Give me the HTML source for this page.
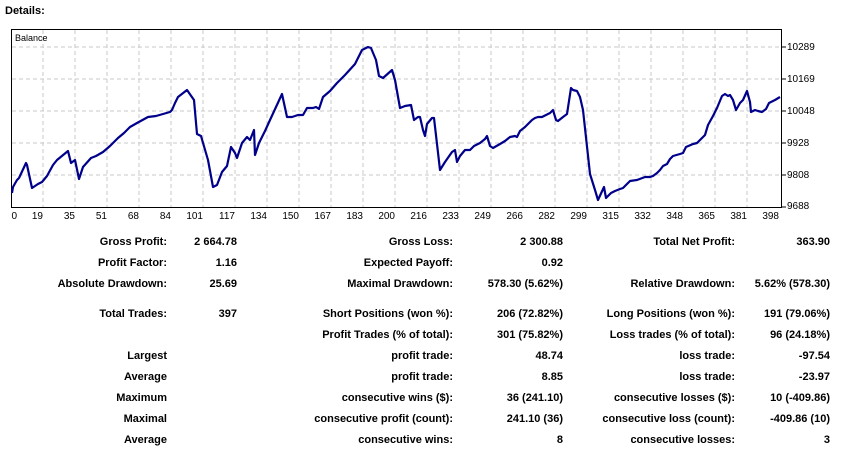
<!DOCTYPE html>
<html><head><meta charset="utf-8"><style>
body{margin:0;width:842px;height:454px;background:#fff;overflow:hidden;position:relative;font-family:"Liberation Sans",sans-serif;}
.t{position:absolute;font-weight:bold;font-size:11px;color:#000;white-space:nowrap;line-height:13px;margin-top:1px;}
.r{text-align:right;}
</style></head><body>
<div class="t" style="left:5px;top:4px;">Details:</div>
<svg width="842" height="225" style="position:absolute;left:0;top:0" font-family="Liberation Sans, sans-serif" font-size="10">
<rect x="11.5" y="29.5" width="770" height="178" fill="#fff" stroke="#000"/>
<g stroke="#c8c8c8" stroke-dasharray="4,3">
<path d="M43 30V207M75 30V207M107 30V207M139 30V207M171 30V207M203 30V207M235 30V207M267 30V207M299 30V207M331 30V207M363 30V207M395 30V207M427 30V207M459 30V207M491 30V207M523 30V207M555 30V207M587 30V207M619 30V207M651 30V207M683 30V207M715 30V207M747 30V207"/>
<path d="M12 47H781M12 79H781M12 111H781M12 143H781M12 175H781"/>
</g>
<text x="15" y="41" font-size="9">Balance</text>
<polyline fill="none" stroke="#00008b" stroke-width="2.2" stroke-linejoin="round" points="12,193 13,187 17,180 19,178 26,163 27,165 32,188 38,184 42,182 47,176 53,165 57,160 68,151 71,163 75,160 79,179 83,167 91,158 96,156 103,152 110,146 118,138 124,133 130,127 137,123 148,117 156,116 170,112 172,110 175,103 178,97 187,90 194,100 197,134 201,136 208,160 213,187 217,185 222,172 227,166 231,147 235,153 237,158 242,143 247,137 250,140 254,130 255,155 259,143 265,131 270,120 276,107 282,94 287,117 292,117 298,115 303,115 307,108 313,108 316,107 319,109 323,97 330,91 337,83 345,75 355,64 362,50 368,47 371,48 376,60 379,76 383,78 392,70 395,80 400,108 405,106 411,105 414,120 418,117 420,117 423,130 425,136 427,124 432,118 434,118 440,170 445,162 452,152 455,150 457,162 460,156 465,150 470,150 474,146 480,143 485,139 487,136 490,146 493,148 500,144 505,141 510,137 515,136 517,137 520,131 525,127 529,123 532,120 535,118 538,117 542,117 550,113 553,110 556,120 558,121 563,117 567,114 571,88 573,90 577,91 580,97 583,110 590,174 595,190 598,200 604,187 606,198 611,193 615,191 620,189 623,188 627,184 630,181 637,180 645,177 650,177 653,176 657,173 660,170 663,166 667,164 670,159 673,156 680,154 683,153 686,147 693,144 697,143 700,140 705,135 708,125 713,116 717,108 722,96 725,94 728,96 730,95 733,100 736,110 740,103 743,100 747,91 750,102 751,112 755,110 758,111 762,112 766,109 769,103 775,100 780,97"/>
<g stroke="#000"><path d="M782 47h4M782 79h4M782 111h4M782 143h4M782 175h4M782 207h4"/></g>
<g font-size="10">
<text x="787" y="50">10289</text><text x="787" y="82">10169</text><text x="787" y="114">10048</text><text x="787" y="146">9928</text><text x="787" y="178">9808</text><text x="787" y="209">9688</text>
</g>
<g font-size="10" text-anchor="end">
<text x="17" y="219">0</text><text x="43" y="219">19</text><text x="75" y="219">35</text><text x="107" y="219">51</text><text x="139" y="219">68</text><text x="171" y="219">84</text><text x="203" y="219">101</text><text x="235" y="219">117</text><text x="267" y="219">134</text><text x="299" y="219">150</text><text x="331" y="219">167</text><text x="363" y="219">183</text><text x="395" y="219">200</text><text x="427" y="219">216</text><text x="459" y="219">233</text><text x="491" y="219">249</text><text x="523" y="219">266</text><text x="555" y="219">282</text><text x="587" y="219">299</text><text x="619" y="219">315</text><text x="651" y="219">332</text><text x="683" y="219">348</text><text x="715" y="219">365</text><text x="747" y="219">381</text><text x="779" y="219">398</text>
</g>
</svg>

<div class="t r" style="right:675px;top:235px">Gross Profit:</div>
<div class="t r" style="right:605px;top:235px">2 664.78</div>
<div class="t r" style="right:389px;top:235px">Gross Loss:</div>
<div class="t r" style="right:279px;top:235px">2 300.88</div>
<div class="t r" style="right:107px;top:235px">Total Net Profit:</div>
<div class="t r" style="right:12px;top:235px">363.90</div>

<div class="t r" style="right:675px;top:256px">Profit Factor:</div>
<div class="t r" style="right:605px;top:256px">1.16</div>
<div class="t r" style="right:389px;top:256px">Expected Payoff:</div>
<div class="t r" style="right:279px;top:256px">0.92</div>

<div class="t r" style="right:675px;top:277px">Absolute Drawdown:</div>
<div class="t r" style="right:605px;top:277px">25.69</div>
<div class="t r" style="right:389px;top:277px">Maximal Drawdown:</div>
<div class="t r" style="right:279px;top:277px">578.30 (5.62%)</div>
<div class="t r" style="right:107px;top:277px">Relative Drawdown:</div>
<div class="t r" style="right:12px;top:277px">5.62% (578.30)</div>

<div class="t r" style="right:675px;top:307px">Total Trades:</div>
<div class="t r" style="right:605px;top:307px">397</div>
<div class="t r" style="right:389px;top:307px">Short Positions (won %):</div>
<div class="t r" style="right:279px;top:307px">206 (72.82%)</div>
<div class="t r" style="right:107px;top:307px">Long Positions (won %):</div>
<div class="t r" style="right:12px;top:307px">191 (79.06%)</div>

<div class="t r" style="right:389px;top:328px">Profit Trades (% of total):</div>
<div class="t r" style="right:279px;top:328px">301 (75.82%)</div>
<div class="t r" style="right:107px;top:328px">Loss trades (% of total):</div>
<div class="t r" style="right:12px;top:328px">96 (24.18%)</div>

<div class="t r" style="right:675px;top:349px">Largest</div>
<div class="t r" style="right:389px;top:349px">profit trade:</div>
<div class="t r" style="right:279px;top:349px">48.74</div>
<div class="t r" style="right:107px;top:349px">loss trade:</div>
<div class="t r" style="right:12px;top:349px">-97.54</div>

<div class="t r" style="right:675px;top:370px">Average</div>
<div class="t r" style="right:389px;top:370px">profit trade:</div>
<div class="t r" style="right:279px;top:370px">8.85</div>
<div class="t r" style="right:107px;top:370px">loss trade:</div>
<div class="t r" style="right:12px;top:370px">-23.97</div>

<div class="t r" style="right:675px;top:391px">Maximum</div>
<div class="t r" style="right:389px;top:391px">consecutive wins ($):</div>
<div class="t r" style="right:279px;top:391px">36 (241.10)</div>
<div class="t r" style="right:107px;top:391px">consecutive losses ($):</div>
<div class="t r" style="right:12px;top:391px">10 (-409.86)</div>

<div class="t r" style="right:675px;top:412px">Maximal</div>
<div class="t r" style="right:389px;top:412px">consecutive profit (count):</div>
<div class="t r" style="right:279px;top:412px">241.10 (36)</div>
<div class="t r" style="right:107px;top:412px">consecutive loss (count):</div>
<div class="t r" style="right:12px;top:412px">-409.86 (10)</div>

<div class="t r" style="right:675px;top:433px">Average</div>
<div class="t r" style="right:389px;top:433px">consecutive wins:</div>
<div class="t r" style="right:279px;top:433px">8</div>
<div class="t r" style="right:107px;top:433px">consecutive losses:</div>
<div class="t r" style="right:12px;top:433px">3</div>
</body></html>
